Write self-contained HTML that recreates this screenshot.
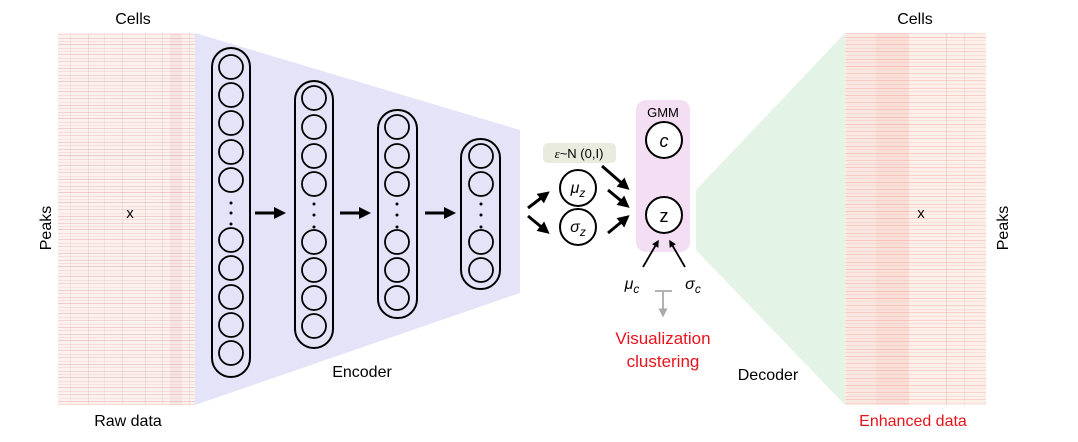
<!DOCTYPE html>
<html><head><style>
body{margin:0;background:#fff;width:1078px;height:442px;overflow:hidden}
svg{display:block}
text{font-family:"Liberation Sans",sans-serif;fill:#000}
</style></head><body>
<svg width="1078" height="442" viewBox="0 0 1078 442">
<defs>
<pattern id="hl" width="137" height="37" patternUnits="userSpaceOnUse">
<rect width="137" height="37" fill="#fcf1ec"/>
<g fill="#b84a64">
<rect y="1" width="137" height="1" opacity=".18"/>
<rect y="4" width="137" height="1" opacity=".10"/>
<rect y="7" width="137" height="1" opacity=".22"/>
<rect y="11" width="137" height="1" opacity=".12"/>
<rect y="14" width="137" height="1" opacity=".08"/>
<rect y="17" width="137" height="1" opacity=".20"/>
<rect y="21" width="137" height="1" opacity=".10"/>
<rect y="24" width="137" height="1" opacity=".16"/>
<rect y="28" width="137" height="1" opacity=".08"/>
<rect y="31" width="137" height="1" opacity=".2"/>
<rect y="34" width="137" height="1" opacity=".12"/>
<rect x="8" width="1" height="37" opacity=".12"/>
<rect x="25" width="1" height="37" opacity=".1"/>
<rect x="33" width="12" height="37" opacity=".07"/>
<rect x="52" width="1" height="37" opacity=".12"/>
<rect x="70" width="1" height="37" opacity=".08"/>
<rect x="88" width="1" height="37" opacity=".12"/>
<rect x="104" width="1" height="37" opacity=".08"/>
<rect x="122" width="1" height="37" opacity=".1"/>
</g>
</pattern>
<pattern id="hr" width="141" height="29" patternUnits="userSpaceOnUse">
<rect width="141" height="29" fill="#fdefe9"/>
<g fill="#e06a5c">
<rect y="1" width="141" height="1" opacity=".22"/>
<rect y="4" width="141" height="1" opacity=".12"/>
<rect y="8" width="141" height="1" opacity=".25"/>
<rect y="11" width="141" height="1" opacity=".1"/>
<rect y="15" width="141" height="1" opacity=".2"/>
<rect y="19" width="141" height="1" opacity=".12"/>
<rect y="22" width="141" height="1" opacity=".22"/>
<rect y="26" width="141" height="1" opacity=".12"/>
<rect x="0" width="30" height="29" opacity=".06"/>
<rect x="30" width="33" height="29" opacity=".12"/>
<rect x="100" width="1" height="29" opacity=".2"/>
<rect x="118" width="1" height="29" opacity=".12"/>
</g>
</pattern>
<marker id="ah" markerWidth="4" markerHeight="4" refX="2" refY="2" orient="auto" markerUnits="strokeWidth"><path d="M0,0L4,2L0,4z" fill="#000"/></marker>
<marker id="ag" markerWidth="5" markerHeight="5" refX="2.5" refY="2.5" orient="auto" markerUnits="strokeWidth"><path d="M0,0L5,2.5L0,5z" fill="#aaa"/></marker>
</defs>
<polygon points="195,33 520,130 520,293 195,405" fill="#e4e3f7"/>
<polygon points="696,190 845,33 845,405 696,250" fill="#e3f3e5"/>
<rect x="58" y="33" width="137" height="372" fill="url(#hl)"/>
<rect x="845" y="33" width="141" height="372" fill="url(#hr)"/>
<text x="133" y="24" font-size="16" text-anchor="middle">Cells</text>
<text x="915" y="24" font-size="16" text-anchor="middle">Cells</text>
<text transform="translate(51,228) rotate(-90)" font-size="16" text-anchor="middle">Peaks</text>
<text transform="translate(1008,228) rotate(-90)" font-size="16" text-anchor="middle">Peaks</text>
<text x="130" y="218" font-size="15" text-anchor="middle">x</text>
<text x="921" y="218" font-size="15" text-anchor="middle">x</text>
<text x="128" y="426" font-size="16" text-anchor="middle">Raw data</text>
<text x="913" y="426" font-size="16" text-anchor="middle" style="fill:#e8141c">Enhanced data</text>
<text x="362" y="377" font-size="16" text-anchor="middle">Encoder</text>
<text x="768" y="380" font-size="16" text-anchor="middle">Decoder</text>
<g fill="none" stroke="#000" stroke-width="2">
<rect x="212" y="48" width="38" height="329" rx="19"/>
<rect x="295" y="81" width="38" height="267" rx="19"/>
<rect x="378" y="110" width="39" height="208" rx="19"/>
<rect x="461" y="139" width="39" height="150" rx="19"/>
<g stroke-width="1.8">
<circle cx="231" cy="67" r="12"/><circle cx="231" cy="95" r="12"/><circle cx="231" cy="123" r="12"/><circle cx="231" cy="152" r="12"/><circle cx="231" cy="180" r="12"/>
<circle cx="231" cy="240" r="12"/><circle cx="231" cy="268" r="12"/><circle cx="231" cy="297" r="12"/><circle cx="231" cy="325" r="12"/><circle cx="231" cy="353" r="12"/>
<circle cx="314" cy="98" r="12"/><circle cx="314" cy="127" r="12"/><circle cx="314" cy="156" r="12"/><circle cx="314" cy="184" r="12"/>
<circle cx="314" cy="242" r="12"/><circle cx="314" cy="270" r="12"/><circle cx="314" cy="298" r="12"/><circle cx="314" cy="326" r="12"/>
<circle cx="397" cy="127" r="12"/><circle cx="397" cy="156" r="12"/><circle cx="397" cy="184" r="12"/>
<circle cx="397" cy="242" r="12"/><circle cx="397" cy="270" r="12"/><circle cx="397" cy="298" r="12"/>
<circle cx="481" cy="156" r="12"/><circle cx="481" cy="184" r="12"/>
<circle cx="481" cy="242" r="12"/><circle cx="481" cy="270" r="12"/>
</g></g>
<g fill="#000">
<circle cx="231" cy="203" r="1.5"/><circle cx="231" cy="213" r="1.5"/><circle cx="231" cy="224" r="1.5"/>
<circle cx="314" cy="204" r="1.5"/><circle cx="314" cy="215" r="1.5"/><circle cx="314" cy="227" r="1.5"/>
<circle cx="397" cy="204" r="1.5"/><circle cx="397" cy="215" r="1.5"/><circle cx="397" cy="227" r="1.5"/>
<circle cx="481" cy="204" r="1.5"/><circle cx="481" cy="215" r="1.5"/><circle cx="481" cy="227" r="1.5"/>
</g>
<g stroke="#000" stroke-width="3" marker-end="url(#ah)">
<line x1="255" y1="213" x2="280" y2="213"/>
<line x1="340" y1="213" x2="365" y2="213"/>
<line x1="425" y1="213" x2="450" y2="213"/>
<line x1="528" y1="208" x2="545" y2="195"/>
<line x1="528" y1="216" x2="545" y2="230"/>
<line x1="602" y1="166" x2="625" y2="186"/>
<line x1="608" y1="190" x2="625" y2="204"/>
<line x1="608" y1="233" x2="625" y2="219"/>
<line x1="664" y1="162" x2="664" y2="185"/>
</g>
<rect x="543" y="143" width="73" height="20" rx="5" fill="#e8ebdd"/>
<text x="579" y="158" font-size="13" text-anchor="middle"><tspan font-family="Liberation Serif" font-style="italic">ε</tspan>~N (0,I)</text>
<rect x="636" y="100" width="54" height="152" rx="10" fill="#f3def3"/>
<text x="663" y="117" font-size="13" text-anchor="middle">GMM</text>
<g fill="#fff" stroke="#000" stroke-width="2">
<circle cx="578" cy="188" r="18"/><circle cx="578" cy="227" r="18"/>
<circle cx="664" cy="140" r="18"/><circle cx="664" cy="215" r="18"/>
</g>
<text x="578" y="193" font-size="16" text-anchor="middle" font-style="italic" font-family="Liberation Serif">μ<tspan font-size="12" dy="4" font-family="Liberation Sans">z</tspan></text>
<text x="578" y="232" font-size="16" text-anchor="middle" font-style="italic" font-family="Liberation Serif">σ<tspan font-size="12" dy="4" font-family="Liberation Sans">z</tspan></text>
<text x="664" y="147" font-size="18" text-anchor="middle" font-style="italic">c</text>
<text x="664" y="222" font-size="18" text-anchor="middle">z</text>
<g stroke="#000" stroke-width="1.8" marker-end="url(#ah)">
<line x1="643" y1="267" x2="657" y2="243"/>
<line x1="685" y1="267" x2="671" y2="243"/>
</g>
<text x="632" y="289" font-size="16" text-anchor="middle" font-style="italic" font-family="Liberation Serif">μ<tspan font-size="12" dy="4" font-family="Liberation Sans">c</tspan></text>
<text x="693" y="289" font-size="16" text-anchor="middle" font-style="italic" font-family="Liberation Serif">σ<tspan font-size="12" dy="4" font-family="Liberation Sans">c</tspan></text>
<g stroke="#aaa" stroke-width="1.8">
<line x1="655" y1="291" x2="672" y2="291"/>
<line x1="663" y1="291" x2="663" y2="313" marker-end="url(#ag)"/>
</g>
<text x="663" y="344" font-size="17" text-anchor="middle" style="fill:#e8141c">Visualization</text>
<text x="663" y="367" font-size="17" text-anchor="middle" style="fill:#e8141c">clustering</text>
</svg>
</body></html>
